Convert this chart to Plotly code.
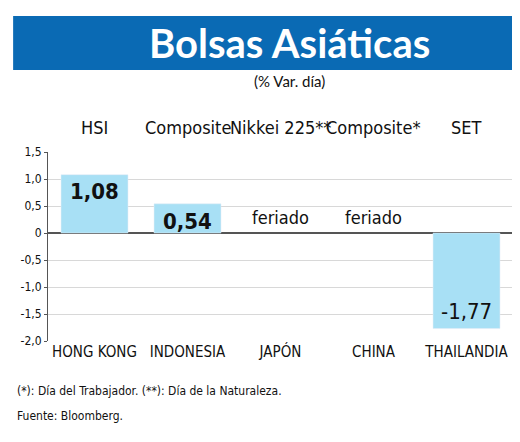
import plotly.graph_objects as go

paises = ["HONG KONG", "INDONESIA", "JAPÓN", "CHINA", "THAILANDIA"]
indices = ["HSI", "Composite", "Nikkei 225**", "Composite*", "SET"]
variacion = [1.08, 0.54, None, None, -1.77]
etiquetas = ["1,08", "0,54", "feriado", "feriado", "-1,77"]
tick_vals = [1.5, 1.0, 0.5, 0, -0.5, -1.0, -1.5, -2.0]
tick_text = ["1,5", "1,0", "0,5", "0", "-0,5", "-1,0", "-1,5", "-2,0"]

narrow = "Liberation Sans Narrow, DejaVu Sans Condensed, sans-serif"

fig = go.Figure(go.Bar(
    x=paises, y=variacion, marker_color="#a8e0f5", width=0.72,
    hoverinfo="skip",
))

# value / feriado labels
for p, v, t in zip(paises, variacion, etiquetas):
    if v is None:
        fig.add_annotation(x=p, y=0.05, text=t, showarrow=False, yanchor="bottom",
                           font=dict(family=narrow, size=18, color="#111"))
    elif v > 0:
        fig.add_annotation(x=p, y=v - 0.05, text="<b>" + t + "</b>", showarrow=False, yanchor="top",
                           font=dict(family=narrow, size=22, color="#111"))
    else:
        fig.add_annotation(x=p, y=v + 0.05, text=t, showarrow=False, yanchor="bottom",
                           font=dict(family=narrow, size=22, color="#111"))

# index names above chart
for p, n in zip(paises, indices):
    fig.add_annotation(x=p, y=1.13, yref="paper", yanchor="middle", text=n, showarrow=False,
                       font=dict(family=narrow, size=18, color="#111"))

# title banner
fig.add_shape(type="rect", xref="paper", yref="paper", x0=-0.075, x1=1.0, y0=1.434, y1=1.72,
              fillcolor="#0a6ab4", line_width=0, layer="below")
fig.add_annotation(xref="paper", yref="paper", x=0.52, y=1.577, yanchor="middle",
                   text="<b>Bolsas Asiáticas</b>",
                   showarrow=False, font=dict(family="Lato", size=40, color="white"))
fig.add_annotation(xref="paper", yref="paper", x=0.52, y=1.376, yanchor="middle",
                   text="(% Var. día)",
                   showarrow=False, font=dict(family="Lato", size=15, color="#111"))
fig.add_annotation(xref="paper", yref="paper", x=-0.07, y=-0.265, xanchor="left", yanchor="middle",
                   text="(*): Día del Trabajador. (**): Día de la Naturaleza.",
                   showarrow=False, font=dict(family=narrow, size=12, color="#111"))
fig.add_annotation(xref="paper", yref="paper", x=-0.07, y=-0.397, xanchor="left", yanchor="middle",
                   text="Fuente: Bloomberg.",
                   showarrow=False, font=dict(family=narrow, size=12, color="#111"))

fig.update_layout(
    width=520, height=442, margin=dict(l=40, r=15, t=144, b=109),
    plot_bgcolor="white", paper_bgcolor="white", showlegend=False,
    bargap=0.28,
)
fig.update_xaxes(tickfont=dict(family=narrow, size=15, color="#111"), ticks="", showline=False,
                 automargin=False)
fig.update_yaxes(range=[-2.0, 1.5], tickvals=tick_vals, ticktext=tick_text,
                 tickfont=dict(family=narrow, size=12, color="#111"),
                 gridcolor="#d8d8d8", zeroline=True, zerolinecolor="#555", zerolinewidth=2,
                 showline=True, linecolor="#555", linewidth=1, ticks="outside", ticklen=3,
                 tickcolor="#555", automargin=False)

fig.write_html("out.html")
